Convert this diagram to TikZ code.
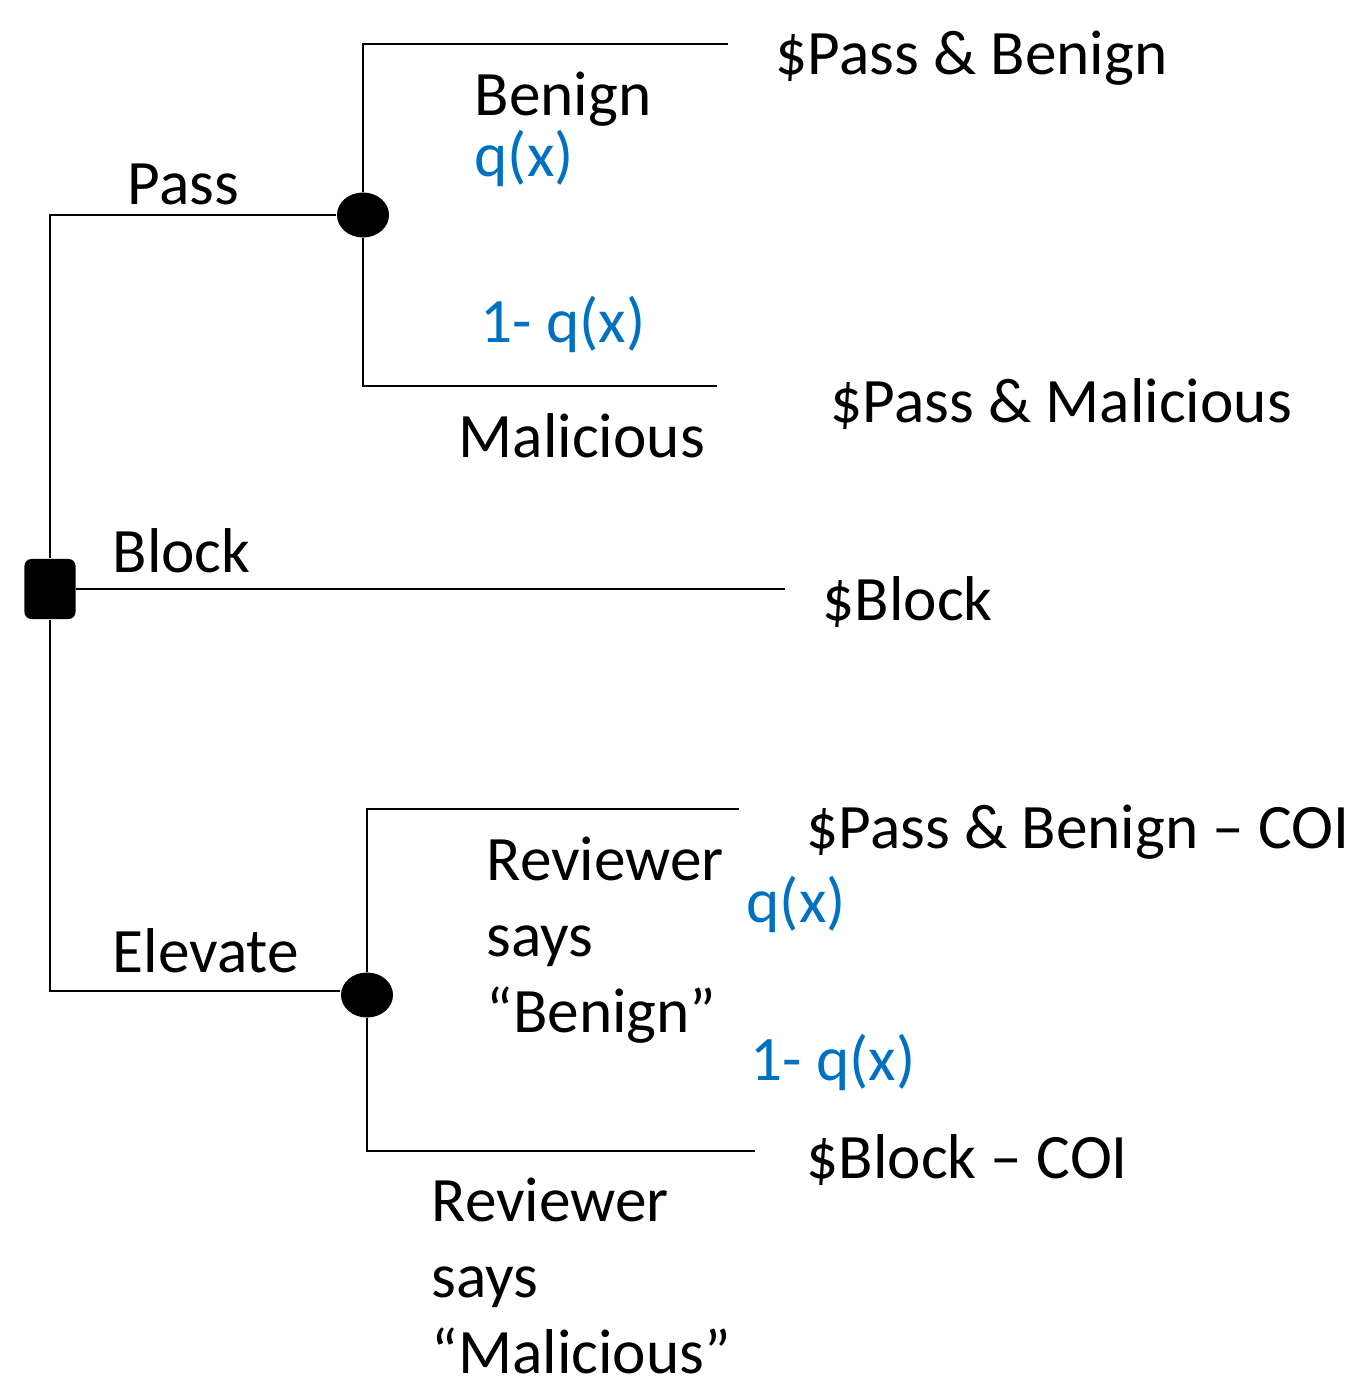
\documentclass[tikz,border=0pt]{standalone}
\usepackage{fontspec}
\setmainfont{Carlito}
\usetikzlibrary{shapes.geometric}
\definecolor{probblue}{RGB}{0,112,192}

\begin{document}
\begin{tikzpicture}[x=0.01cm,y=-0.01cm,
		lbl/.style={anchor=base west,inner sep=0pt,align=left,font=\fontsize{18}{21.6}\selectfont},
		prob/.style={lbl,text=probblue},
		chance/.style={ellipse,fill=black,minimum width=0.52cm,minimum height=0.45cm,inner sep=0pt},
		decision/.style={rectangle,rounded corners=0.07cm,fill=black,minimum width=0.51cm,minimum height=0.6cm,inner sep=0pt}]

		\useasboundingbox (0,0) rectangle (1369,1382);

		% nodes
		\node[decision] (dec) at (50,589) {};
		\node[chance] (passch) at (363,215) {};
		\node[chance] (elevch) at (367,995) {};

		\coordinate (pbtop) at (363,44);
		\coordinate (pbend) at (728,44);
		\coordinate (pmbot) at (363,386);
		\coordinate (pmend) at (717,386);
		\coordinate (blend) at (785,589);
		\coordinate (ebtop) at (367,809);
		\coordinate (ebend) at (739,809);
		\coordinate (embot) at (367,1151);
		\coordinate (emend) at (755,1151);

		% branches
		\draw (dec.north) -- (50,215) -- (passch.west);
		\draw (dec.south) -- (50,991) -- (elevch.west |- 0,991);
		\draw (dec.east) -- (blend);
		\draw (passch.north) -- (pbtop) -- (pbend);
		\draw (passch.south) -- (pmbot) -- (pmend);
		\draw (elevch.north) -- (ebtop) -- (ebend);
		\draw (elevch.south) -- (embot) -- (emend);

		% labels
		\node[lbl] (lpass) at (127,205) {Pass};
		\node[lbl] (lblock) at (112,572) {Block};
		\node[lbl] (lelev) at (112,972) {Elevate};
		\node[lbl] (lben) at (474,116) {Benign};
		\node[prob] (qa) at (474,177) {q(x)};
		\node[prob] (qb) at (480,342) {1- q(x)};
		\node[lbl] (lmal) at (458,457) {Malicious};
		\node[lbl] (rben) at (486,1032) {Reviewer\\says\\“Benign”};
		\node[prob] (qc) at (746,922) {q(x)};
		\node[prob] (qd) at (750,1080) {1- q(x)};
		\node[lbl] (rmal) at (431,1373) {Reviewer\\says\\“Malicious”};

		% payoffs
		\node[lbl] (vpb) at (775,75) {\$Pass \& Benign};
		\node[lbl] (vpm) at (830,422) {\$Pass \& Malicious};
		\node[lbl] (vbl) at (822,620) {\$Block};
		\node[lbl] (vpbc) at (806,848) {\$Pass \& Benign – COI};
		\node[lbl] (vblc) at (806,1178) {\$Block – COI};

	\end{tikzpicture}
\end{document}
